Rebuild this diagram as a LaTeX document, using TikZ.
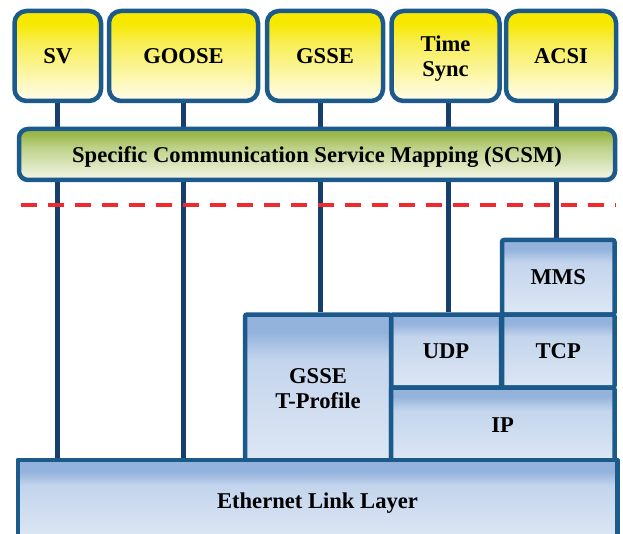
\documentclass[tikz,border=0pt]{standalone}
\usepackage{fontspec}
\setmainfont{Liberation Serif}[BoldFont={Liberation Serif Bold}]
\newfontfamily\boxfont{Liberation Serif Bold}
\usetikzlibrary{backgrounds}
\definecolor{edge}{HTML}{1C5A8C}
\definecolor{vline}{HTML}{163F6E}
\definecolor{dashred}{HTML}{EE2A2E}
\definecolor{yt}{HTML}{F6E800}
\definecolor{ym}{HTML}{F8EE50}
\definecolor{yb}{HTML}{FFFDEE}
\definecolor{gt}{HTML}{9AB84A}
\definecolor{gm}{HTML}{BCD084}
\definecolor{gb}{HTML}{F4F7EA}
\definecolor{bt}{HTML}{93B2DC}
\definecolor{bm}{HTML}{C3D4EC}
\definecolor{bb}{HTML}{DEE8F4}
\pgfdeclareverticalshading{yshade}{100bp}{color(0bp)=(yb); color(25bp)=(yb); color(58bp)=(ym); color(68bp)=(yt); color(75bp)=(yt); color(100bp)=(yt)}
\pgfdeclareverticalshading{gshade}{100bp}{color(0bp)=(gb); color(25bp)=(gb); color(58bp)=(gm); color(70bp)=(gt); color(75bp)=(gt); color(100bp)=(gt)}
\pgfdeclareverticalshading{bshade}{100bp}{color(0bp)=(bb); color(25bp)=(bb); color(60bp)=(bm); color(69bp)=(bt); color(75bp)=(bt); color(100bp)=(bt)}
\tikzset{
  box/.style={draw=edge, line width=4.5pt, font=\boxfont\fontsize{22.6}{25}\selectfont, align=center, inner sep=0pt, text depth=0pt},
  topbox/.style={box, rounded corners=12pt, shading=yshade, minimum height=90pt},
  bluebox/.style={box, rounded corners=2pt, shading=bshade},
  vl/.style={draw=vline, line width=5pt},
}
\begin{document}
\begin{tikzpicture}[x=1pt, y=-1pt]
\useasboundingbox (0,0) rectangle (623,534);
% top boxes
\node[topbox, minimum width=86.5pt] (sv) at (57.75,56) {SV};
\node[topbox, minimum width=149pt] (goose) at (183.5,56) {GOOSE};
\node[topbox, minimum width=116pt] (gsse) at (325,56) {GSSE};
\node[topbox, minimum width=108pt] (ts) at (445.5,56) {Time\\Sync};
\node[topbox, minimum width=110pt] (acsi) at (561,56) {ACSI};
% SCSM bar
\node[box, rounded corners=9pt, shading=gshade, minimum width=596pt, minimum height=51pt] (scsm) at (317,154.5) {Specific Communication Service Mapping (SCSM)};
% protocol stack
\node[bluebox, minimum width=112.5pt, minimum height=74.5pt] (mms) at (558.25,277.25) {MMS};
\node[bluebox, minimum width=112.5pt, minimum height=73pt] (tcp) at (558.25,351) {TCP};
\node[bluebox, minimum width=110pt, minimum height=73pt] (udp) at (446,351) {UDP};
\node[bluebox, minimum width=146pt, minimum height=147.5pt] (gssep) at (318,388.25) {GSSE\\T-Profile};
\node[bluebox, minimum width=223.5pt, minimum height=74.5pt] (ip) at (502.75,424.75) {IP};
\node[box, draw=none, shading=bshade, minimum width=595pt, minimum height=78pt] (eth) at (317.5,501) {Ethernet Link Layer};
\draw[draw=edge, line width=4.5pt, line join=round] (eth.south west) -- (eth.north west) -- (eth.north east) -- (eth.south east);
% red dashed separator
\coordinate (dl) at (21,205);
\coordinate (dr) at (616,205);
\draw[dashred, line width=3.6pt, dash pattern=on 16pt off 11pt] (dl) -- (dr);
% vertical connectors behind the boxes
\begin{scope}[on background layer]
\draw[vl] (sv.south) -- (sv.south |- eth.north);
\draw[vl] (goose.south) -- (goose.south |- eth.north);
\draw[vl] ([xshift=-4.5pt]gsse.south) -- ([xshift=-4.5pt]gsse.south |- gssep.north);
\draw[vl] ([xshift=2.5pt]ts.south) -- ([xshift=2.5pt]ts.south |- udp.north);
\draw[vl] ([xshift=-4.3pt]acsi.south) -- ([xshift=-4.3pt]acsi.south |- mms.north);
\end{scope}
\end{tikzpicture}
\end{document}
